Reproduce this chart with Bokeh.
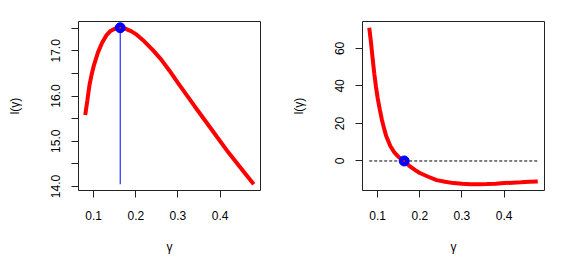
from bokeh.plotting import figure
from bokeh.layouts import row
from bokeh.models import FixedTicker, PrintfTickFormatter, Range1d
from bokeh.embed import file_html
from bokeh.resources import INLINE

# ---- data ----
gamma_l = [0.080, 0.085, 0.090, 0.095, 0.100, 0.110, 0.120, 0.130, 0.140, 0.150,
           0.163, 0.175, 0.190, 0.200, 0.220, 0.240, 0.260, 0.280, 0.300, 0.340,
           0.380, 0.420, 0.460, 0.480]
loglik = [15.58, 15.90, 16.24, 16.47, 16.66, 16.96, 17.18, 17.34, 17.44, 17.49,
          17.51, 17.49, 17.43, 17.37, 17.21, 17.02, 16.81, 16.56, 16.29, 15.77,
          15.26, 14.75, 14.28, 14.05]

gamma_d = [0.080, 0.084, 0.088, 0.092, 0.096, 0.100, 0.105, 0.110, 0.115, 0.120,
           0.130, 0.140, 0.150, 0.163, 0.175, 0.190, 0.200, 0.220, 0.240, 0.260,
           0.280, 0.300, 0.320, 0.340, 0.360, 0.380, 0.400, 0.420, 0.440, 0.460,
           0.480]
deriv = [71.0, 63.5, 54.7, 46.5, 39.5, 33.5, 27.5, 22.0, 17.5, 13.5,
         8.0, 4.4, 2.0, 0.0, -2.6, -5.0, -6.4, -8.4, -10.2, -11.1,
         -11.8, -12.2, -12.4, -12.4, -12.3, -12.1, -11.8, -11.6, -11.4, -11.1,
         -10.9]

gamma_hat = 0.163
l_max = 17.51

x_ticks = [0.1, 0.2, 0.3, 0.4]
y1_ticks = [14, 15, 16, 17]
y1_minor = [14.5, 15.5, 16.5, 17.5]
y2_ticks = [0, 20, 40, 60]

FONT = "Liberation Sans"


def pad(lo, hi, f=0.04):
    r = hi - lo
    return lo - f * r, hi + f * r


def style(p, xt, yt, yminor=None):
    p.outline_line_color = "#222222"
    p.outline_line_width = 1
    p.xgrid.visible = False
    p.ygrid.visible = False
    p.background_fill_color = "white"
    p.border_fill_color = "white"
    p.xaxis.ticker = FixedTicker(ticks=xt)
    p.yaxis.ticker = FixedTicker(ticks=yt, minor_ticks=yminor or [])
    for ax in (p.xaxis[0], p.yaxis[0]):
        ax.axis_line_color = None
        ax.major_tick_line_color = "#222222"
        ax.minor_tick_line_color = "#222222"
        ax.major_tick_in = 0
        ax.major_tick_out = 7
        ax.minor_tick_in = 0
        ax.minor_tick_out = 7 if yminor else 0
        ax.major_label_text_font = FONT
        ax.major_label_text_font_size = "12px"
        ax.major_label_text_color = "black"
        ax.axis_label_text_font = FONT
        ax.axis_label_text_font_size = "12px"
        ax.axis_label_text_font_style = "normal"
        ax.axis_label_text_color = "black"
    p.xaxis.minor_tick_out = 0
    p.xaxis.major_label_standoff = 13
    p.xaxis.axis_label_standoff = 17
    p.yaxis.major_label_orientation = "vertical"
    p.yaxis.major_label_standoff = 11
    p.yaxis.axis_label_standoff = 27
    p.xaxis.axis_label = "γ"
    p.yaxis.axis_label = "l(γ)"


# ---- left panel ----
x1 = pad(min(gamma_l), max(gamma_l))
y1 = pad(min(loglik), max(loglik))
p1 = figure(width=284, height=256, output_backend="svg", toolbar_location=None,
            x_range=Range1d(*x1), y_range=Range1d(*y1),
            min_border_left=78, min_border_right=24, min_border_top=21, min_border_bottom=64)
style(p1, x_ticks, y1_ticks, y1_minor)
p1.yaxis.formatter = PrintfTickFormatter(format="%.1f")
p1.line(gamma_l, loglik, line_color="#FF0000", line_width=4)
p1.segment(x0=[gamma_hat], y0=[min(loglik)], x1=[gamma_hat], y1=[l_max],
           line_color="#0000FF", line_width=1)
p1.scatter([gamma_hat], [l_max], size=10, fill_color="#0000FF", line_color="#0000FF")
p1.scatter([gamma_hat], [l_max], size=2, fill_color="#FF0000", line_color=None)

# ---- right panel ----
x2 = pad(min(gamma_d), max(gamma_d))
y2 = pad(min(deriv), max(deriv))
p2 = figure(width=271, height=256, output_backend="svg", toolbar_location=None,
            x_range=Range1d(*x2), y_range=Range1d(*y2),
            min_border_left=78, min_border_right=11, min_border_top=21, min_border_bottom=64)
style(p2, x_ticks, y2_ticks)
p2.segment(x0=[min(gamma_d)], y0=[0], x1=[max(gamma_d)], y1=[0],
           line_color="black", line_width=1, line_dash="3 2")
p2.line(gamma_d, deriv, line_color="#FF0000", line_width=4)
p2.scatter([gamma_hat], [0], size=10, fill_color="#0000FF", line_color="#0000FF")
p2.scatter([gamma_hat], [0], size=2, fill_color="#FF0000", line_color=None)

layout = row(p1, p2)
open("out.html", "w").write(file_html(layout, INLINE))
